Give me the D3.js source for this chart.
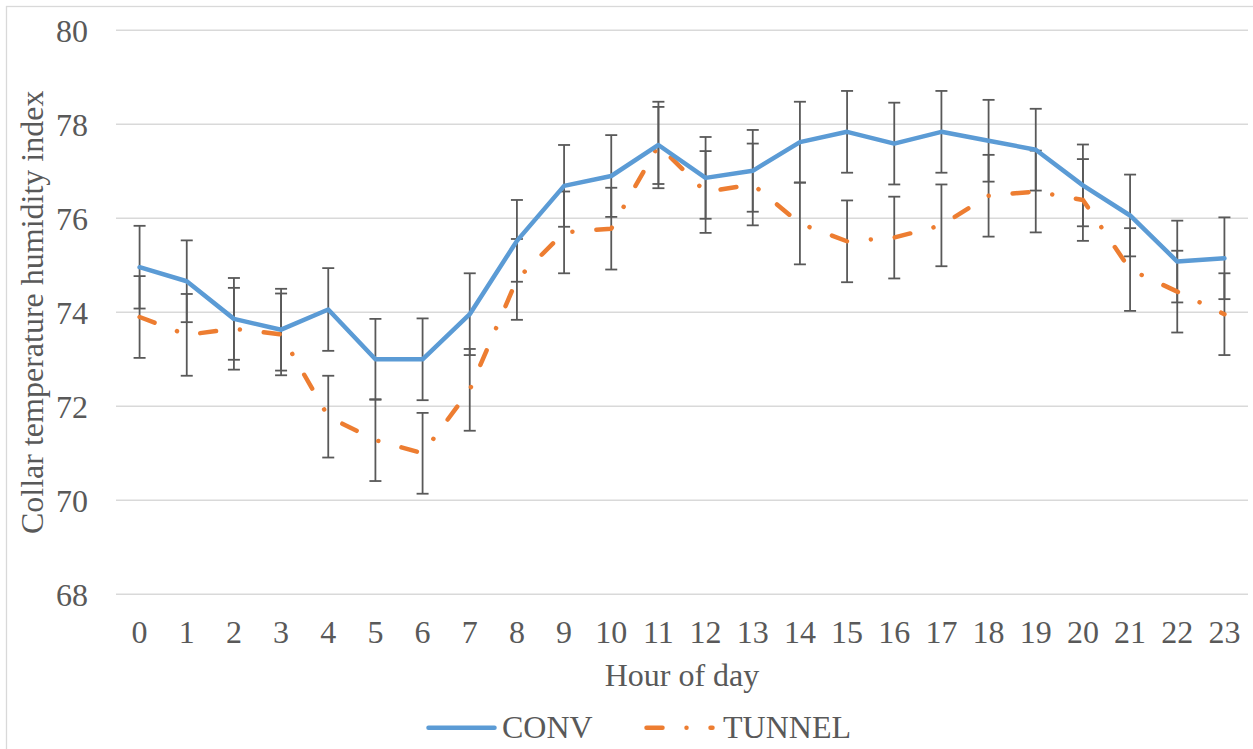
<!DOCTYPE html>
<html>
<head>
<meta charset="utf-8">
<script src="https://cdn.jsdelivr.net/npm/d3@7"></script>
<style>
  html, body { margin: 0; padding: 0; background: #fff; }
  svg { display: block; }
</style>
</head>
<body>
<svg id="chart" width="1253" height="749"></svg>
<script>
const hours = [0,1,2,3,4,5,6,7,8,9,10,11,12,13,14,15,16,17,18,19,20,21,22,23];
const convValues = [74.96,74.66,73.86,73.63,74.06,73.0,73.0,73.96,75.52,76.69,76.9,77.56,76.86,77.01,77.62,77.84,77.59,77.84,77.65,77.46,76.7,76.06,75.08,75.15];
const convErrors = [0.88,0.87,0.87,0.87,0.88,0.86,0.87,0.87,0.87,0.87,0.87,0.92,0.87,0.87,0.86,0.87,0.87,0.87,0.87,0.87,0.87,0.87,0.87,0.87];
const tunnelValues = [73.9,73.52,73.65,73.53,71.78,71.28,71.0,72.35,74.7,75.7,75.78,77.55,76.56,76.72,75.89,75.51,75.59,75.85,76.48,76.57,76.39,74.91,74.44,73.96];
const tunnelErrors = [0.87,0.87,0.87,0.87,0.87,0.87,0.86,0.87,0.86,0.87,0.87,0.82,0.87,0.87,0.87,0.87,0.87,0.87,0.87,0.87,0.87,0.88,0.87,0.87];
const yTicks = [68,70,72,74,76,78,80];
const seriesNames = ["CONV", "TUNNEL"];
const xTitle = "Hour of day";
const yTitle = "Collar temperature humidity index";

const FONT = "'Liberation Serif', 'Times New Roman', serif";
const TEXT = "#595959";
const GRID = "#d9d9d9";
const BLUE = "#5B9BD5";
const ORANGE = "#ED7D31";
const DASH = "16 24 0.01 24";

const svg = d3.select("#chart");
const plot = {left: 116, right: 1248, top: 30.3, bottom: 594.3};

// chart border
svg.append("rect").attr("x", 6.5).attr("y", 6.5).attr("width", 1300).attr("height", 800)
  .attr("fill", "none").attr("stroke", GRID).attr("stroke-width", 1.3);

const x = d3.scaleBand().domain(hours).range([plot.left, plot.right]).padding(0);
const xc = h => x(h) + x.bandwidth() / 2;
const y = d3.scaleLinear().domain([68, 80]).range([plot.bottom, plot.top]);

// gridlines
svg.append("g").selectAll("line").data(yTicks).join("line")
  .attr("x1", plot.left).attr("x2", plot.right)
  .attr("y1", d => y(d)).attr("y2", d => y(d))
  .attr("stroke", GRID).attr("stroke-width", 1.5);

// y axis labels
const yAxis = d3.axisLeft(y).tickValues(yTicks).tickSize(0).tickPadding(0);
const gy = svg.append("g").attr("transform", `translate(${plot.left - 28},0)`).call(yAxis);
gy.select(".domain").remove();
gy.selectAll("text").attr("font-family", FONT).attr("font-size", 32).attr("fill", TEXT)
  .attr("dy", "0.34em");

// x axis labels
const xAxis = d3.axisBottom(x).tickSize(0).tickPadding(0);
const gx = svg.append("g").attr("transform", `translate(0,${plot.bottom})`).call(xAxis);
gx.select(".domain").remove();
gx.selectAll("text").attr("font-family", FONT).attr("font-size", 32).attr("fill", TEXT)
  .attr("dy", null).attr("y", 48.5);

// axis titles
svg.append("text").attr("x", (plot.left + plot.right) / 2).attr("y", 686)
  .attr("text-anchor", "middle").attr("font-family", FONT).attr("font-size", 32)
  .attr("fill", TEXT).text(xTitle);
svg.append("text").attr("transform", `translate(43,${(plot.top + plot.bottom) / 2}) rotate(-90)`)
  .attr("text-anchor", "middle").attr("font-family", FONT).attr("font-size", 32)
  .attr("fill", TEXT).text(yTitle);

// error bars
function errorBars(vals, errs) {
  const g = svg.append("g").attr("stroke", "#595959").attr("stroke-width", 1.8);
  hours.forEach((h, i) => {
    const cx = xc(h), top = y(vals[i] + errs[i]), bot = y(vals[i] - errs[i]);
    g.append("line").attr("x1", cx).attr("x2", cx).attr("y1", top).attr("y2", bot);
    g.append("line").attr("x1", cx - 6).attr("x2", cx + 6).attr("y1", top).attr("y2", top);
    g.append("line").attr("x1", cx - 6).attr("x2", cx + 6).attr("y1", bot).attr("y2", bot);
  });
}
errorBars(convValues, convErrors);
errorBars(tunnelValues, tunnelErrors);

const line = d3.line().x((d, i) => xc(hours[i])).y(d => y(d));

svg.append("path").datum(tunnelValues).attr("d", line)
  .attr("fill", "none").attr("stroke", ORANGE).attr("stroke-width", 4.5)
  .attr("stroke-linecap", "round").attr("stroke-linejoin", "round")
  .attr("stroke-dasharray", DASH);

svg.append("path").datum(convValues).attr("d", line)
  .attr("fill", "none").attr("stroke", BLUE).attr("stroke-width", 4.5)
  .attr("stroke-linejoin", "round").attr("stroke-linecap", "round");

// legend
const ly = 727.7;
const leg = svg.append("g");
leg.append("line").attr("x1", 428.5).attr("x2", 494.5).attr("y1", ly).attr("y2", ly)
  .attr("stroke", BLUE).attr("stroke-width", 4.5).attr("stroke-linecap", "round");
leg.append("text").attr("x", 502).attr("y", 738).attr("font-family", FONT).attr("font-size", 32)
  .attr("fill", TEXT).text(seriesNames[0]);
leg.append("line").attr("x1", 646.5).attr("x2", 712.5).attr("y1", ly).attr("y2", ly)
  .attr("stroke", ORANGE).attr("stroke-width", 4.5).attr("stroke-linecap", "round")
  .attr("stroke-dasharray", DASH);
leg.append("text").attr("x", 723).attr("y", 738).attr("font-family", FONT).attr("font-size", 32)
  .attr("fill", TEXT).text(seriesNames[1]);
</script>
</body>
</html>
